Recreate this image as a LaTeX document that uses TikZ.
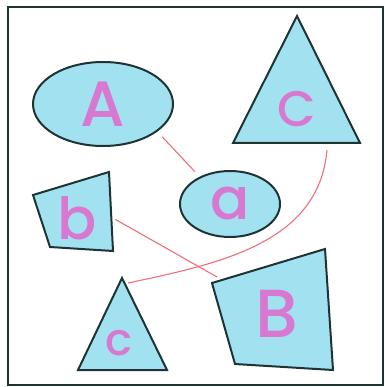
\documentclass[tikz,border=0pt]{standalone}
\usepackage{fontspec}
\setmainfont{Poppins}
\newfontfamily\glyphfont{Poppins Medium}
\usepackage{xcolor}
\usetikzlibrary{calc,shapes.geometric}

\definecolor{shapefill}{RGB}{162,226,240}
\definecolor{shapeedge}{RGB}{30,52,52}
\definecolor{letterpink}{RGB}{216,120,208}
\definecolor{linkred}{RGB}{240,110,122}
\newcommand{\glyphsize}[1]{\fontsize{#1}{#1}\selectfont\glyphfont}

\begin{document}
\begin{tikzpicture}[
    x=1pt, y=-1pt,
    blob/.style={ellipse, draw=shapeedge, fill=shapefill, line width=2pt,
                 inner sep=0pt, text=letterpink},
    figure/.style={draw=shapeedge, fill=shapefill, line width=2pt, line join=miter},
    letter/.style={inner sep=0pt, text=letterpink},
    link/.style={draw=linkred, line width=1.1pt},
    frame/.style={draw=shapeedge, line width=2pt}
]
    \useasboundingbox (0,0) rectangle (384,387);
    \draw[frame] (8,7) rectangle (383,385);

    \node[blob, minimum width=140pt, minimum height=84pt, font=\glyphsize{64}] (A) at (103,104) {A};
    \node[blob, minimum width=100pt, minimum height=66pt, font=\glyphsize{58}] (a) at (230,204) {a};

    \coordinate (C1) at (297,16);
    \coordinate (C2) at (233,143);
    \coordinate (C3) at (360,143);
    \draw[figure] (C1) -- (C2) -- (C3) -- cycle;
    \node[letter, font=\glyphsize{50}] (C) at (297,109) {C};

    \coordinate (b1) at (33,195);
    \coordinate (b2) at (109,172);
    \coordinate (b3) at (113,251);
    \coordinate (b4) at (50,247);
    \draw[figure] (b1) -- (b2) -- (b3) -- (b4) -- cycle;
    \node[letter, font=\glyphsize{58}] (b) at (77,218) {b};

    \coordinate (c1) at (122,278);
    \coordinate (c2) at (78,370);
    \coordinate (c3) at (167,370);
    \draw[figure] (c1) -- (c2) -- (c3) -- cycle;
    \node[letter, font=\glyphsize{45}] (c) at (119,343) {c};

    \coordinate (B1) at (212,283);
    \coordinate (B2) at (325,249);
    \coordinate (B3) at (333,370);
    \coordinate (B4) at (235,364);
    \draw[figure] (B1) -- (B2) -- (B3) -- (B4) -- cycle;
    \node[letter, font=\glyphsize{68}] (B) at (277,314) {B};

    % pairings
    \draw[link, shorten <=7pt, shorten >=7pt] (A.-27) -- (a.138);
    \draw[link] ([shift={(4,0)}]$(b2)!0.6!(b3)$) -- ([shift={(5,-6)}]B1);
    \draw[link] ([shift={(0,7)}]$(C2)!0.74!(C3)$) to[out=-95, in=12] ([shift={(6,5)}]c1);
\end{tikzpicture}
\end{document}
